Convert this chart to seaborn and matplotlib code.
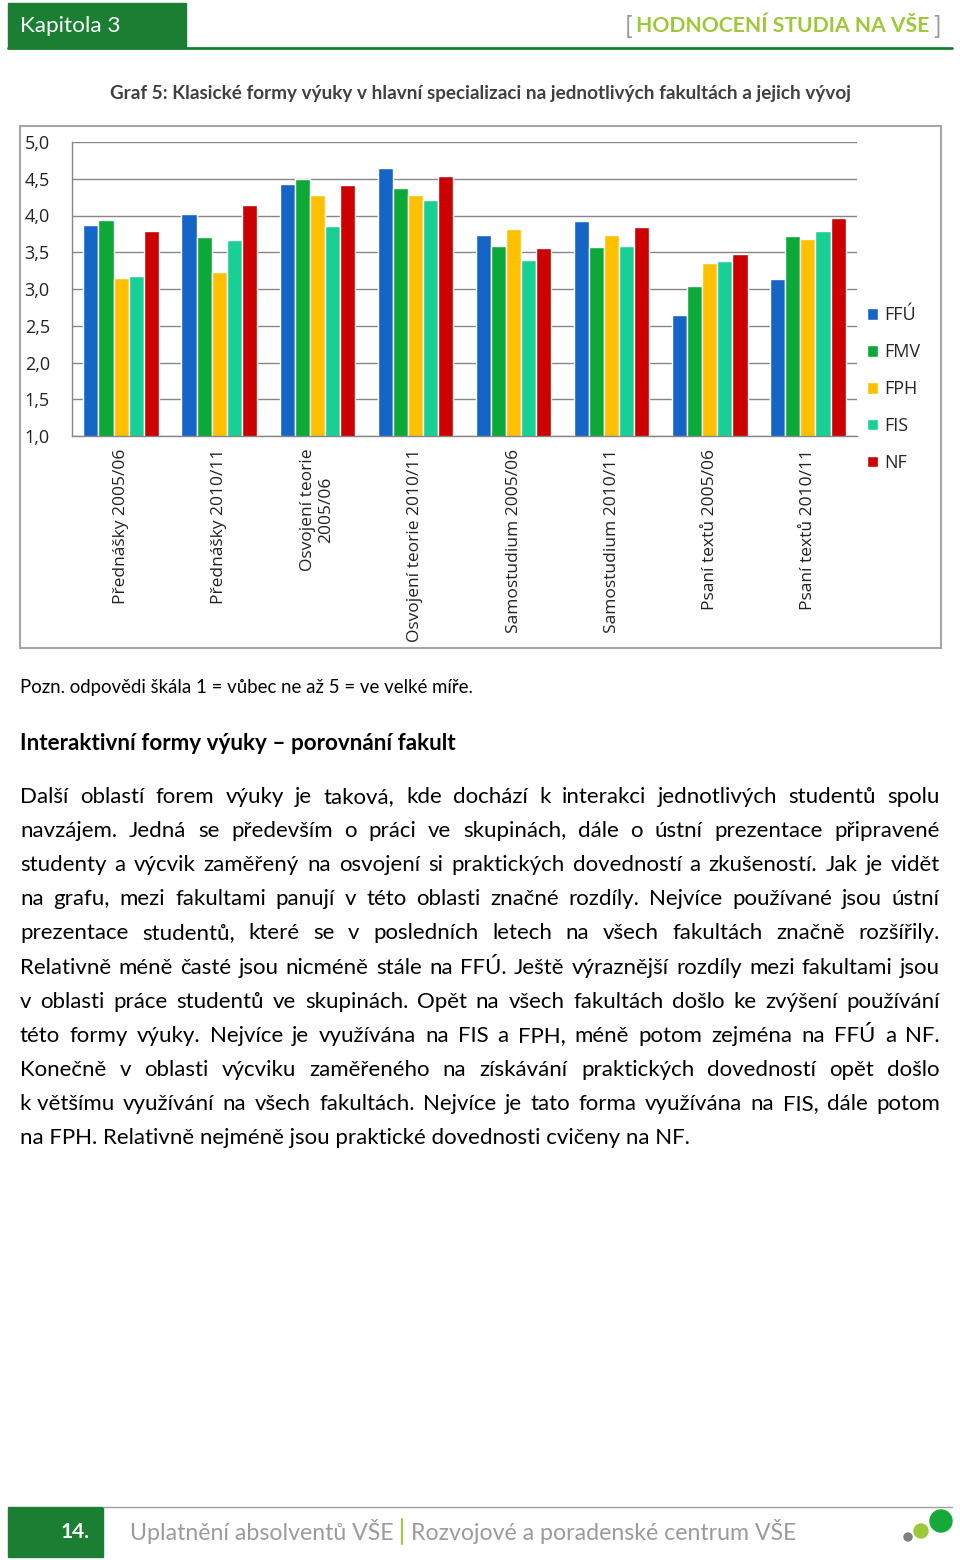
import numpy as np
import pandas as pd
import matplotlib
matplotlib.use("Agg")
import matplotlib.pyplot as plt
import seaborn as sns
from matplotlib.patches import Rectangle, Circle

# ------------------------------------------
# data
# ------------------------------------------
categories = ["Přednášky 2005/06", "Přednášky 2010/11", "Osvojení teorie\n2005/06",
              "Osvojení teorie 2010/11", "Samostudium 2005/06", "Samostudium 2010/11",
              "Psaní textů 2005/06", "Psaní textů 2010/11"]
faculties = ["FFÚ", "FMV", "FPH", "FIS", "NF"]

ffu = [3.87, 4.02, 4.43, 4.65, 3.74, 3.93, 2.64, 3.14]
fmv = [3.94, 3.71, 4.50, 4.38, 3.58, 3.57, 3.04, 3.72]
fph = [3.15, 3.23, 4.28, 4.28, 3.82, 3.74, 3.36, 3.68]
fis = [3.18, 3.66, 3.86, 4.21, 3.39, 3.58, 3.38, 3.79]
nf = [3.79, 4.14, 4.42, 4.54, 3.56, 3.85, 3.47, 3.97]

y_ticks = [1.0, 1.5, 2.0, 2.5, 3.0, 3.5, 4.0, 4.5, 5.0]
colors = ["#1565C7", "#0CA838", "#FFC000", "#18D096", "#CC0000"]

title = "Graf 5: Klasické formy výuky v hlavní specializaci na jednotlivých fakultách a jejich vývoj"
note = "Pozn. odpovědi škála 1 = vůbec ne až 5 = ve velké míře."
heading = "Interaktivní formy výuky – porovnání fakult"
body_lines = [
    "Další oblastí forem výuky je taková, kde dochází k interakci jednotlivých studentů spolu",
    "navzájem. Jedná se především o práci ve skupinách, dále o ústní prezentace připravené",
    "studenty a výcvik zaměřený na osvojení si praktických dovedností a zkušeností. Jak je vidět",
    "na grafu, mezi fakultami panují v této oblasti značné rozdíly. Nejvíce používané jsou ústní",
    "prezentace studentů, které se v posledních letech na všech fakultách značně rozšířily.",
    "Relativně méně časté jsou nicméně stále na FFÚ. Ještě výraznější rozdíly mezi fakultami jsou",
    "v oblasti práce studentů ve skupinách. Opět na všech fakultách došlo ke zvýšení používání",
    "této formy výuky. Nejvíce je využívána na FIS a FPH, méně potom zejména na FFÚ a NF.",
    "Konečně v oblasti výcviku zaměřeného na získávání praktických dovedností opět došlo",
    "k\u00a0většímu využívání na všech fakultách. Nejvíce je tato forma využívána na FIS, dále potom",
    "na FPH. Relativně nejméně jsou praktické dovednosti cvičeny na NF.",
]

df = pd.DataFrame({
    "kategorie": np.tile(categories, len(faculties)),
    "fakulta": np.repeat(faculties, len(categories)),
    "hodnota": ffu + fmv + fph + fis + nf,
})

# ------------------------------------------
# figure + page background axes (pixel coords)
# ------------------------------------------
sns.set_theme(style="white")
plt.rcParams["font.family"] = ["Open Sans", "DejaVu Sans"]

fig = plt.figure(figsize=(9.6, 15.6), dpi=100)
bg = fig.add_axes([0, 0, 1, 1])
bg.set_xlim(0, 960)
bg.set_ylim(1560, 0)
bg.axis("off")
renderer = fig.canvas.get_renderer()


def width_of(t):
    return t.get_window_extent(renderer).width


def fit(x, y, s, w, **kw):
    t = bg.text(x, y, s, fontsize=10, **kw)
    t.set_fontsize(10 * w / width_of(t))
    return t


GREEN = "#1A7F33"
LIME = "#9CC83A"
GRAY = "#9B9B9B"

# header
bg.add_patch(Rectangle((8, 3), 178, 45, color=GREEN))
bg.plot([8, 952], [48, 48], color=GREEN, lw=2)
fit(20, 26, "Kapitola 3", 100, color="white", va="center", family="Lato")
fit(636, 26, "HODNOCENÍ STUDIA NA VŠE", 293, color=LIME, va="center",
    family="Lato", fontweight="bold")
bg.text(625, 26, "[", color=GRAY, va="center", fontsize=18, family="Lato")
bg.text(941, 26, "]", color=GRAY, va="center", ha="right", fontsize=18, family="Lato")

# chart title
fit(110, 94, title, 739, color="#404040", va="center", family="Lato", fontweight="bold")

# chart frame
bg.add_patch(Rectangle((20, 126), 921, 522, fill=False, edgecolor="#A6A6A6", lw=1.5))

# ------------------------------------------
# bar chart
# ------------------------------------------
ax = fig.add_axes([72 / 960, 1 - 436 / 1560, (857 - 72) / 960, (436 - 142) / 1560])
sns.barplot(data=df, x="kategorie", y="hodnota", hue="fakulta", palette=colors,
            width=0.77, saturation=1, errorbar=None, ax=ax)
ax.set_ylim(1, 5)
ax.set_xlim(-0.5, len(categories) - 0.5)
ax.set_yticks(y_ticks)
ax.set_yticklabels([f"{v:.1f}".replace(".", ",") for v in y_ticks], fontsize=13, color="#222222")
ax.set_xticks(range(len(categories)))
ax.set_xticklabels(categories, rotation=90, va="top", ha="center", multialignment="center",
                   fontsize=12.5, color="#222222")
ax.set_xticks(np.arange(-0.5, len(categories)), minor=True)
ax.tick_params(axis="x", which="major", length=0, pad=9)
ax.tick_params(axis="x", which="minor", length=5, color="#868686", width=1, direction="out")
ax.tick_params(axis="y", length=5, color="#868686", width=1, direction="out", pad=11)
ax.set_xlabel("")
ax.set_ylabel("")
ax.yaxis.grid(True, color="#868686", lw=1)
ax.set_axisbelow(True)
for side in ["top", "right"]:
    ax.spines[side].set_visible(False)
for side in ["left", "bottom"]:
    ax.spines[side].set_color("#868686")
    ax.spines[side].set_linewidth(1)

handles, labels = ax.get_legend_handles_labels()
ax.legend(handles, labels, loc="upper left", bbox_to_anchor=(851, 290),
          bbox_transform=bg.transData, frameon=False, fontsize=13,
          handlelength=0.6, handleheight=0.6, handletextpad=0.35, labelspacing=1.05)

# ------------------------------------------
# text below the chart
# ------------------------------------------
fit(20, 693, note, 452, color="black", va="baseline", family="Lato")
fit(20, 750, heading, 439, color="black", va="baseline", family="Lato", fontweight="bold")

probe = bg.text(0, 0, body_lines[-1], fontsize=10, family="Lato")
body_fs = 10 * 670 / width_of(probe)
probe.remove()

for i, line in enumerate(body_lines):
    y = 803 + i * 34.1
    if i == len(body_lines) - 1:
        bg.text(20, y, line, fontsize=body_fs, family="Lato", va="baseline", color="black")
        continue
    words = line.split(" ")
    ts = [bg.text(0, y, w, fontsize=body_fs, family="Lato", va="baseline", color="black")
          for w in words]
    ws = [width_of(t) for t in ts]
    gap = (920 - sum(ws)) / (len(words) - 1)
    x = 20
    for t, w in zip(ts, ws):
        t.set_x(x)
        x += w + gap

# ------------------------------------------
# footer
# ------------------------------------------
bg.add_patch(Rectangle((8, 1507), 95, 50, color=GREEN))
bg.plot([103, 952], [1507, 1507], color="#A0A0A0", lw=1)
bg.text(90, 1532, "14.", color="white", ha="right", va="center", fontsize=15,
        fontweight="bold", family="Lato")
fit(130, 1531, "Uplatnění absolventů VŠE", 263, color=GRAY, va="center", family="Lato")
bg.plot([402, 402], [1519, 1544], color=LIME, lw=1.5)
fit(411, 1531, "Rozvojové a poradenské centrum VŠE", 386, color=GRAY, va="center", family="Lato")
bg.add_patch(Circle((908, 1537), 4, color="#7F7F7F"))
bg.add_patch(Circle((921, 1531), 7, color=LIME))
bg.add_patch(Circle((941, 1521), 11, color="#17A83A"))

fig.savefig("out.png", dpi=100)
